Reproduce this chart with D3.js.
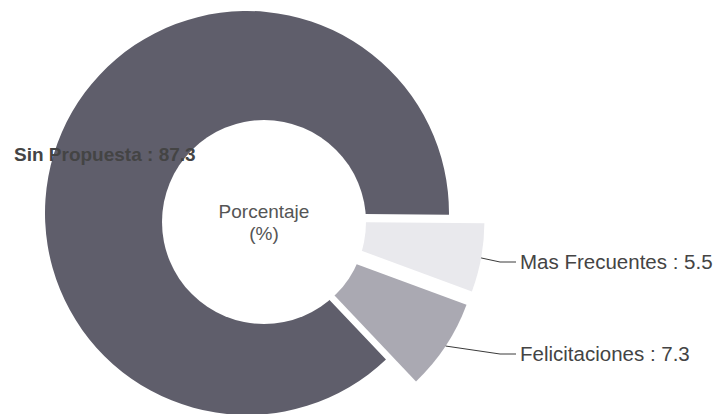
<!DOCTYPE html>
<html>
<head>
<meta charset="utf-8">
<script src="https://cdn.jsdelivr.net/npm/d3@7"></script>
<style>
  html, body { margin: 0; padding: 0; background: #ffffff; }
  svg { display: block; }
</style>
</head>
<body>
<div id="chart"></div>
<script>
// ---- data ----
const categories = ["Sin Propuesta", "Mas Frecuentes", "Felicitaciones"];
const values = [87.3, 5.5, 7.3];
const centerTitle = ["Porcentaje", "(%)"];

// ---- layout ----
const W = 715, H = 414;
const cx = 247, cy = 213, R = 202;
const hole = { x: 264, y: 222, r: 102 };
const explode = 36;
const fill = { "Sin Propuesta": "#5f5e6b", "Mas Frecuentes": "#e9e9ed", "Felicitaciones": "#aaa9b2" };
const font = "Liberation Sans, Arial, sans-serif";

const svg = d3.select("#chart").append("svg").attr("width", W).attr("height", H);
const g = svg.append("g").attr("transform", `translate(${cx},${cy})`);

const total = d3.sum(values);
const endOfFirst = Math.PI / 2 + 0.5 * Math.PI / 180;
const start = endOfFirst - 2 * Math.PI * values[0] / total;

const pie = d3.pie().sort(null).value(d => d.value).startAngle(start).endAngle(start + 2 * Math.PI);
const data = categories.map((c, i) => ({ name: c, value: values[i] }));
const arcs = pie(data);
const arc = d3.arc().innerRadius(0).outerRadius(R);

function offset(d) {
  if (d.index === 0) return [0, 0];
  const m = (d.startAngle + d.endAngle) / 2;
  return [explode * Math.sin(m), -explode * Math.cos(m) + 2];
}

g.selectAll("path.slice").data(arcs).enter().append("path")
  .attr("class", "slice")
  .attr("transform", d => `translate(${offset(d)})`)
  .attr("d", arc)
  .attr("fill", d => fill[d.data.name]);

// hole
svg.append("circle").attr("cx", hole.x).attr("cy", hole.y).attr("r", hole.r).attr("fill", "#ffffff");

// centre title
centerTitle.forEach((t, i) => {
  svg.append("text").attr("x", hole.x).attr("y", 218 + i * 22).attr("text-anchor", "middle")
    .attr("font-family", font).attr("font-size", 19).attr("fill", "#555")
    .text(t);
});

// labels
const fmt = d3.format(".1f");
const main = arcs[0];
svg.append("text").attr("x", cx - 233).attr("y", cy - 52)
  .attr("font-family", font).attr("font-size", 19).attr("font-weight", "bold")
  .attr("fill", "#444").text(`${main.data.name} : ${fmt(main.data.value)}`);

const labelX = 520;
arcs.slice(1).forEach(d => {
  const [ox, oy] = offset(d);
  const m = (d.startAngle + d.endAngle) / 2;
  const p0 = [cx + ox + R * Math.sin(m), cy + oy - R * Math.cos(m)];
  const ly = d.data.name === "Mas Frecuentes" ? 262 : 354;
  const p1 = [labelX - 20, ly];
  const p2 = [labelX - 4, ly];
  svg.append("path").attr("d", d3.line()([p0, p1, p2]))
    .attr("fill", "none").attr("stroke", "#3a3a3a").attr("stroke-width", 1);
  svg.append("text").attr("x", labelX).attr("y", ly + 7)
    .attr("font-family", font).attr("font-size", 20.5)
    .attr("fill", "#444").text(`${d.data.name} : ${fmt(d.data.value)}`);
});
</script>
</body>
</html>
